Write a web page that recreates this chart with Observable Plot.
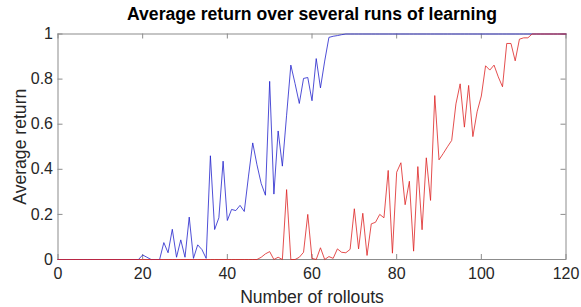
<!DOCTYPE html>
<html><head><meta charset="utf-8">
<script src="https://cdn.jsdelivr.net/npm/d3@7"></script>
<script src="https://cdn.jsdelivr.net/npm/@observablehq/plot@0.6"></script>
<style>body{margin:0;background:#fff} svg{display:block}</style>
</head><body><div id="chart"></div><script>
const titleText = "Average return over several runs of learning";
const xLabel = "Number of rollouts";
const yLabel = "Average return";
const xTicks = [0, 20, 40, 60, 80, 100, 120];
const yTicks = [0, 0.2, 0.4, 0.6, 0.8, 1];

// rollouts 0..120
const blue = [
  0,0,0,0,0,0,0,0,0,0,
  0,0,0,0,0,0,0,0,0,0,
  0.02,0.01,0,0,0,0.075,0.03,0.134,0.01,0.087,
  0.01,0.188,0.005,0.065,0.044,0.005,0.46,0.133,0.185,0.436,
  0.173,0.222,0.217,0.24,0.213,0.37,0.517,0.42,0.337,0.285,
  0.79,0.29,0.57,0.414,0.64,0.862,0.78,0.692,0.803,0.807,
  0.704,0.891,0.761,0.88,0.985,0.99,0.993,0.997,1,1,
  1,1,1,1,1,1,1,1,1,1,
  1,1,1,1,1,1,1,1,1,1,
  1,1,1,1,1,1,1,1,1,1,
  1,1,1,1,1,1,1,1,1,1,
  1,1,1,1,1,1,1,1,1,1,
  1
];
const red = [
  0,0,0,0,0,0,0,0,0,0,
  0,0,0,0,0,0,0,0,0,0,
  0,0,0,0,0,0,0,0,0,0,
  0,0,0,0,0,0,0,0,0,0,
  0,0,0,0,0,0,0,0,0.01,0.025,
  0.035,0,0.01,0,0.31,0,0,0.01,0.032,0.2,
  0.005,0,0.052,0,0.013,0.005,0.047,0.032,0.03,0.045,
  0.225,0.047,0.205,0.018,0.158,0.165,0.2,0.185,0.395,0.028,
  0.387,0.429,0.243,0.347,0.037,0.412,0.132,0.451,0.262,0.727,
  0.442,0.47,0.5,0.528,0.69,0.779,0.587,0.772,0.545,0.655,
  0.725,0.859,0.84,0.862,0.81,0.766,0.958,0.958,0.881,0.977,
  0.983,0.983,1,1,1,1,1,1,1,1,
  1
];

const rows = blue.map((b, i) => ({x: i, blue: b, red: red[i]}));

const W = 581, H = 307, ML = 57.5, MR = 15.5, MT = 33.5, MB = 48;
const PW = W - ML - MR, PH = H - MT - MB;
const axisColor = "#8c8c8c";
const tick = 5;

const plot = Plot.plot({
  width: W, height: H,
  marginLeft: ML, marginRight: MR, marginTop: MT, marginBottom: MB,
  style: {fontFamily: "'Liberation Sans', Arial, sans-serif", fontSize: "16px", color: "#262626", background: "#fff"},
  x: {domain: [0, 120]},
  y: {domain: [0, 1]},
  marks: [
    Plot.frame({stroke: axisColor}),
    Plot.tickX(xTicks, {x: d => d, stroke: axisColor, insetTop: PH - tick}),
    Plot.tickX(xTicks, {x: d => d, stroke: axisColor, insetBottom: PH - tick}),
    Plot.tickY(yTicks, {y: d => d, stroke: axisColor, insetRight: PW - tick}),
    Plot.tickY(yTicks, {y: d => d, stroke: axisColor, insetLeft: PW - tick}),
    Plot.lineY(rows, {x: "x", y: "blue", stroke: "#2222cc", strokeWidth: 0.8}),
    Plot.lineY(rows, {x: "x", y: "red", stroke: "#dd2222", strokeWidth: 0.8}),
    Plot.axisX({anchor: "bottom", ticks: xTicks, tickSize: 0, tickPadding: 8, fontSize: 16, label: null}),
    Plot.axisY({anchor: "left", ticks: yTicks, tickSize: 0, tickPadding: 5, fontSize: 16, label: null, tickFormat: d => String(d)}),
    Plot.text([titleText], {frameAnchor: "top", lineAnchor: "middle", textAnchor: "middle", dy: -19.5, fontWeight: "bold", fontSize: 17.6, fill: "#000"}),
    Plot.text([xLabel], {frameAnchor: "bottom", lineAnchor: "middle", textAnchor: "middle", dy: 38, fontSize: 17.6, fill: "#262626"}),
    Plot.text([yLabel], {frameAnchor: "left", lineAnchor: "middle", textAnchor: "middle", dx: -37.5, rotate: -90, fontSize: 17.6, fill: "#262626"})
  ]
});
document.getElementById("chart").appendChild(plot);
</script></body></html>
